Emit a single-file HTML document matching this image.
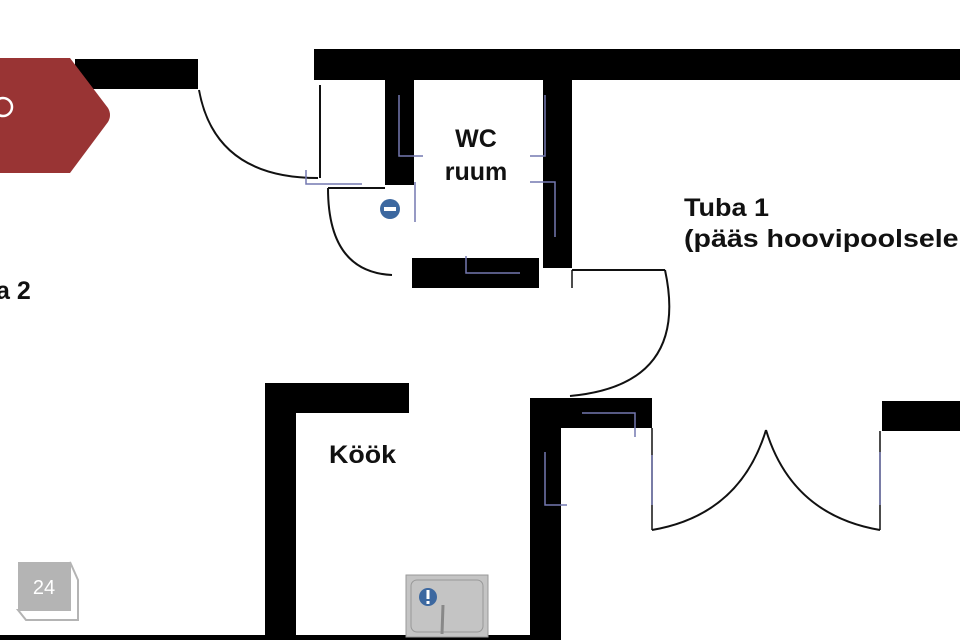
<!DOCTYPE html>
<html><head><meta charset="utf-8"><style>
html,body{margin:0;padding:0;background:#fff;width:960px;height:640px;overflow:hidden}
svg{display:block}
text{font-family:"Liberation Sans",sans-serif;font-weight:bold;fill:#111}
</style></head><body>
<svg width="960" height="640" viewBox="0 0 960 640" xmlns="http://www.w3.org/2000/svg">
<rect width="960" height="640" fill="#fff"/>
<g fill="#000">
<rect x="75" y="59" width="123" height="30"/>
<rect x="314" y="49" width="646" height="31"/>
<rect x="385" y="49" width="29" height="136"/>
<rect x="543" y="49" width="29" height="219"/>
<rect x="412" y="258" width="127" height="30"/>
<rect x="265" y="383" width="31" height="257"/>
<rect x="265" y="383" width="144" height="30"/>
<rect x="530" y="398" width="31" height="242"/>
<rect x="530" y="398" width="122" height="30"/>
<rect x="882" y="401" width="78" height="30"/>
<rect x="0" y="635" width="561" height="5"/>
</g>
<path d="M0,58 L70,58 L108,108 Q112,115 108,122 L70,173 L0,173 Z" fill="#993434"/>
<circle cx="3" cy="107" r="9" fill="none" stroke="#fff" stroke-width="2.5"/>
<g fill="none" stroke="#111" stroke-width="2">
<line x1="320" y1="85" x2="320" y2="178"/>
<path d="M199,90 Q215,178 318,178"/>
<line x1="328" y1="188" x2="385" y2="188"/>
<path d="M328,188 Q328,272 392,275"/>
<line x1="572" y1="270" x2="665" y2="270"/>
<line x1="572" y1="270" x2="572" y2="288" stroke-width="1.5"/>
<path d="M665,270 Q690,385 570,396"/>
<line x1="652" y1="428" x2="652" y2="530" stroke-width="1.5"/>
<line x1="880" y1="431" x2="880" y2="530" stroke-width="1.5"/>
<path d="M652,530 Q740,515 766,430"/>
<path d="M880,530 Q792,515 766,430"/>
</g>
<g fill="none" stroke="#7478b0" stroke-width="1.5">
<polyline points="399,95 399,156 423,156"/>
<polyline points="545,95 545,156 530,156"/>
<polyline points="530,182 555,182 555,237"/>
<polyline points="415,182 415,222"/>
<polyline points="306,170 306,184 362,184"/>
<polyline points="466,256 466,273 520,273"/>
<polyline points="582,413 635,413 635,437"/>
<polyline points="545,452 545,505 567,505"/>
<line x1="880" y1="452" x2="880" y2="505"/>
<line x1="652" y1="455" x2="652" y2="505"/>
</g>
<circle cx="390" cy="209" r="10" fill="#3c68a0"/>
<rect x="384" y="207" width="12" height="4" fill="#fff"/>
<text x="476" y="147" font-size="25" text-anchor="middle">WC</text>
<text x="476" y="180" font-size="25" text-anchor="middle">ruum</text>
<text x="684" y="216" font-size="25" textLength="85" lengthAdjust="spacingAndGlyphs">Tuba 1</text>
<text x="684" y="247" font-size="25" textLength="292" lengthAdjust="spacingAndGlyphs">(pääs hoovipoolsele t</text>
<text x="-4" y="299" font-size="25">a 2</text>
<text x="329" y="463" font-size="25" textLength="67" lengthAdjust="spacingAndGlyphs">Köök</text>
<rect x="406" y="575" width="82" height="62" fill="#c4c4c4" stroke="#999"/>
<rect x="411" y="580" width="72" height="52" rx="6" fill="none" stroke="#999"/>
<circle cx="428" cy="597" r="9" fill="#3c68a0"/>
<rect x="426.5" y="590" width="3" height="9" fill="#fff"/>
<rect x="426.5" y="601" width="3" height="3" fill="#fff"/>
<line x1="443" y1="605" x2="442" y2="634" stroke="#888" stroke-width="3"/>
<rect x="18" y="562" width="52" height="48" fill="#b4b4b4"/>
<path d="M70,562 L78,580 L78,620 L26,620 L18,610 L70,610 Z" fill="#fff" stroke="#b4b4b4" stroke-width="2"/>
<text x="44" y="594" font-size="20" text-anchor="middle" style="font-weight:normal;fill:#fff">24</text>
</svg>
</body></html>
